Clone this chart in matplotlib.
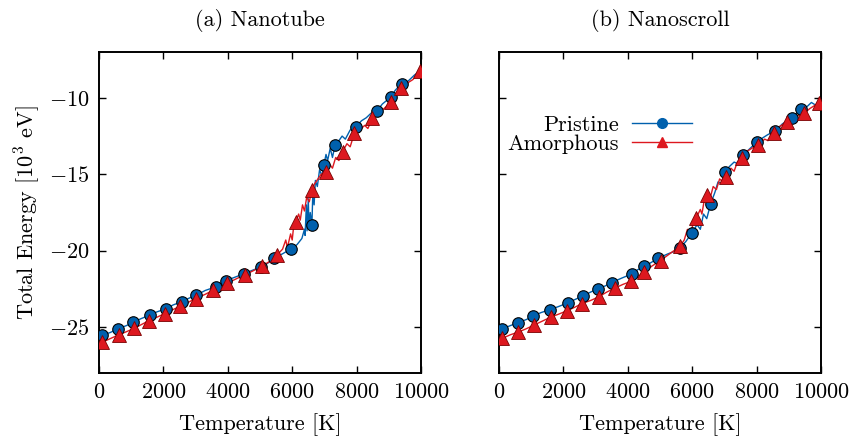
import matplotlib
matplotlib.use("Agg")
import matplotlib.pyplot as plt

plt.rcParams['font.family'] = ['cmr10', 'DejaVu Serif']
plt.rcParams['mathtext.fontset'] = 'cm'
plt.rcParams['axes.formatter.use_mathtext'] = True
plt.rcParams['axes.unicode_minus'] = True

BLUE = '#0060ad'
RED = '#dd181f'

titles = ["(a) Nanotube", "(b) Nanoscroll"]
series_labels = ["Pristine", "Amorphous"]
xlabel = "Temperature [K]"
ylabel = "Total Energy [10$^3$ eV]"
xticks = [0, 2000, 4000, 6000, 8000, 10000]
yticks = [-25, -20, -15, -10]

# ---------- Panel (a): Nanotube ----------
tube_pristine_line_T = [0, 104, 350, 602, 850, 1069, 1300, 1588, 1800, 2066, 2300, 2574, 2800, 3020, 3300, 3643,
                        3944, 4200, 4505, 4800, 5034, 5250, 5439, 5700, 5948, 6150, 6300, 6380, 6400, 6440, 6460,
                        6500, 6520, 6560, 6612, 6640, 6680, 6720, 6780, 6850, 6920, 6986, 7050, 7100, 7180, 7250,
                        7328, 7450, 7550, 7650, 7800, 7972, 8150, 8300, 8450, 8626, 8800, 9062, 9200, 9395, 9600,
                        9800, 10000]
tube_pristine_line_E = [-25.65, -25.53, -25.35, -25.10, -24.9, -24.68, -24.45, -24.20, -24.0, -23.81, -23.55, -23.33,
                        -23.1, -22.91, -22.6, -22.35, -21.95, -21.75, -21.50, -21.25, -21.08, -20.8, -20.49, -20.2,
                        -19.90, -19.6, -19.2, -18.6, -19.0, -17.0, -18.7, -16.6, -18.5, -17.5, -18.29, -16.2, -17.0,
                        -15.4, -15.8, -14.7, -15.1, -14.36, -13.7, -14.1, -13.3, -13.9, -13.11, -12.8, -12.5, -12.7,
                        -12.1, -11.91, -11.5, -11.3, -11.0, -10.86, -10.4, -9.95, -9.5, -9.07, -8.9, -8.5, -8.2]
tube_pristine_mark_T = [104, 602, 1069, 1588, 2066, 2574, 3020, 3643, 3944, 4505, 5034, 5439, 5948, 6612, 6986,
                        7328, 7972, 8626, 9062, 9395]
tube_pristine_mark_E = [-25.53, -25.10, -24.68, -24.20, -23.81, -23.33, -22.91, -22.35, -21.95, -21.50, -21.08,
                        -20.49, -19.90, -18.29, -14.36, -13.11, -11.91, -10.86, -9.95, -9.07]

tube_amorph_line_T = [0, 104, 350, 623, 850, 1090, 1300, 1557, 1800, 2045, 2300, 2522, 2750, 3000, 3300, 3541, 3987,
                      4250, 4547, 4800, 5056, 5300, 5533, 5700, 5800, 5850, 5950, 6000, 6050, 6116, 6200, 6250, 6320,
                      6380, 6450, 6530, 6612, 6700, 6800, 6900, 7058, 7150, 7250, 7350, 7450, 7567, 7700, 7800, 7931,
                      8100, 8250, 8350, 8490, 8650, 8800, 9082, 9200, 9373, 9450, 9600, 9750, 9900, 9979]
tube_amorph_line_E = [-26.05, -25.99, -25.75, -25.49, -25.3, -25.08, -24.85, -24.57, -24.35, -24.11, -23.85, -23.63,
                      -23.4, -23.13, -22.85, -22.59, -22.13, -21.85, -21.56, -21.3, -21.01, -20.7, -20.27, -19.9,
                      -19.3, -19.8, -18.9, -19.3, -18.3, -18.09, -17.6, -18.0, -17.0, -17.4, -16.5, -16.8, -16.02,
                      -15.6, -15.3, -15.0, -14.82, -14.3, -14.6, -13.9, -14.1, -13.51, -13.0, -13.2, -12.30, -12.1,
                      -11.8, -12.0, -11.34, -11.0, -10.8, -10.25, -9.9, -9.34, -9.7, -9.0, -8.8, -8.4, -8.24]
tube_amorph_mark_T = [104, 623, 1090, 1557, 2045, 2522, 3000, 3541, 3987, 4547, 5056, 5533, 6116, 6612, 7058, 7567,
                      7931, 8490, 9082, 9373, 9979]
tube_amorph_mark_E = [-25.99, -25.49, -25.08, -24.57, -24.11, -23.63, -23.13, -22.59, -22.13, -21.56, -21.01, -20.27,
                      -18.09, -16.02, -14.82, -13.51, -12.30, -11.34, -10.25, -9.34, -8.24]

# ---------- Panel (b): Nanoscroll ----------
scroll_pristine_line_T = [0, 104, 350, 602, 850, 1069, 1300, 1588, 1850, 2128, 2350, 2605, 2850, 3083, 3300, 3498,
                          3800, 4121, 4300, 4505, 4700, 4941, 5250, 5500, 5605, 5800, 5990, 6150, 6250, 6350, 6450,
                          6571, 6700, 6800, 6900, 7017, 7150, 7300, 7400, 7567, 7750, 8003, 8200, 8350, 8574, 8800,
                          9083, 9200, 9373, 9550, 9700, 9850, 10000]
scroll_pristine_line_E = [-25.2, -25.12, -24.9, -24.70, -24.5, -24.27, -24.05, -23.85, -23.65, -23.42, -23.2, -22.96,
                          -22.7, -22.48, -22.3, -22.08, -21.8, -21.52, -21.25, -21.01, -20.8, -20.49, -20.2, -20.0,
                          -19.84, -19.4, -18.83, -18.3, -18.6, -17.6, -17.9, -16.93, -16.2, -15.5, -15.6, -14.86,
                          -14.5, -14.2, -14.3, -13.75, -13.4, -12.89, -12.6, -12.4, -12.17, -11.7, -11.32, -11.1,
                          -10.75, -10.6, -10.3, -10.5, -10.25]
scroll_pristine_mark_T = [104, 602, 1069, 1588, 2128, 2605, 3083, 3498, 4121, 4505, 4941, 5605, 5990, 6571, 7017,
                          7567, 8003, 8574, 9083, 9373]
scroll_pristine_mark_E = [-25.12, -24.70, -24.27, -23.85, -23.42, -22.96, -22.48, -22.08, -21.52, -21.01, -20.49,
                          -19.84, -18.83, -16.93, -14.86, -13.75, -12.89, -12.17, -11.32, -10.75]

scroll_amorph_line_T = [0, 104, 350, 602, 850, 1090, 1350, 1599, 1850, 2097, 2350, 2574, 2850, 3094, 3350, 3613,
                        3850, 4111, 4300, 4516, 4750, 5015, 5300, 5617, 5750, 5850, 5950, 6050, 6126, 6250, 6300,
                        6380, 6458, 6550, 6650, 6750, 6850, 6950, 7058, 7200, 7300, 7400, 7546, 7700, 7850, 8034,
                        8250, 8350, 8543, 8700, 8927, 9100, 9250, 9477, 9650, 9800, 9924, 10000]
scroll_amorph_line_E = [-25.8, -25.73, -25.5, -25.32, -25.1, -24.86, -24.6, -24.35, -24.15, -23.94, -23.7, -23.46,
                        -23.25, -23.02, -22.7, -22.43, -22.2, -22.00, -21.7, -21.41, -21.0, -20.64, -20.2, -19.71,
                        -19.3, -18.6, -18.9, -18.0, -17.85, -17.3, -17.6, -16.6, -16.34, -16.6, -15.8, -16.0, -15.3,
                        -15.5, -15.16, -14.6, -14.8, -14.2, -13.92, -13.5, -13.3, -13.09, -12.7, -12.8, -12.28,
                        -11.9, -11.58, -11.3, -11.2, -11.01, -10.7, -10.5, -10.32, -10.3]
scroll_amorph_mark_T = [104, 602, 1090, 1599, 2097, 2574, 3094, 3613, 4111, 4516, 5015, 5617, 6126, 6458, 7058,
                        7546, 8034, 8543, 8927, 9477, 9924]
scroll_amorph_mark_E = [-25.73, -25.32, -24.86, -24.35, -23.94, -23.46, -23.02, -22.43, -22.00, -21.41, -20.64,
                        -19.71, -17.85, -16.34, -15.16, -13.92, -13.09, -12.28, -11.58, -11.01, -10.32]

panels = [
    (tube_pristine_line_T, tube_pristine_line_E, tube_pristine_mark_T, tube_pristine_mark_E,
     tube_amorph_line_T, tube_amorph_line_E, tube_amorph_mark_T, tube_amorph_mark_E),
    (scroll_pristine_line_T, scroll_pristine_line_E, scroll_pristine_mark_T, scroll_pristine_mark_E,
     scroll_amorph_line_T, scroll_amorph_line_E, scroll_amorph_mark_T, scroll_amorph_mark_E),
]

fig = plt.figure(figsize=(8.49, 4.45), dpi=100)
ax_rects = [[0.1166, 0.1618, 0.3793, 0.7213], [0.5878, 0.1618, 0.3793, 0.7213]]
FS = 16

for i, (rect, data) in enumerate(zip(ax_rects, panels)):
    ax = fig.add_axes(rect)
    pT, pE, pmT, pmE, aT, aE, amT, amE = data
    ax.plot(pT, pE, color=BLUE, lw=1.0, zorder=2)
    ax.plot(aT, aE, color=RED, lw=1.0, zorder=3)
    ax.plot(pmT, pmE, ls='none', marker='o', ms=8.3, mfc=BLUE, mec='black', mew=0.8, zorder=4)
    ax.plot(amT, amE, ls='none', marker='^', ms=9.5, mfc=RED, mec='#7a0000', mew=0.6, zorder=5)
    ax.set_xlim(0, 10000)
    ax.set_ylim(-28, -7)
    ax.set_xticks(xticks)
    ax.set_yticks(yticks)
    ax.tick_params(direction='in', length=5, width=1.0, top=True, right=True, labelsize=FS, pad=7)
    for s in ax.spines.values():
        s.set_linewidth(1.4)
    ax.set_title(titles[i], fontsize=FS, pad=19)
    ax.set_xlabel(xlabel, fontsize=FS, labelpad=8)
    if i == 0:
        ax.set_ylabel(ylabel, fontsize=FS, labelpad=5)
    else:
        ax.tick_params(labelleft=False)
        hp, = ax.plot([], [], color=BLUE, lw=1.0, marker='o', ms=7, mfc=BLUE, mec=BLUE)
        ha, = ax.plot([], [], color=RED, lw=1.0, marker='^', ms=7.5, mfc=RED, mec=RED)
        ax.legend([hp, ha], series_labels, loc='center right', bbox_to_anchor=(0.60, 0.743),
                  frameon=False, markerfirst=False, fontsize=FS, handlelength=2.7,
                  handletextpad=0.6, labelspacing=0.0, borderpad=0, borderaxespad=0)

fig.savefig("out.png", dpi=100)
